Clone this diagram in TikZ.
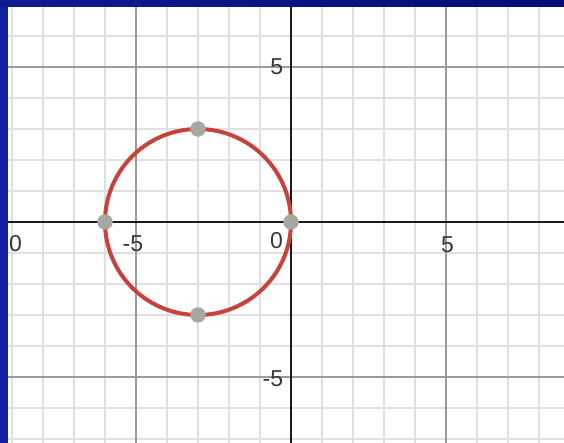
\documentclass[tikz,border=0pt]{standalone}
\usepackage{fontspec}
\setmainfont{Liberation Sans}
\definecolor{bordblue}{RGB}{16,32,160}
\definecolor{topblueL}{RGB}{14,28,145}
\definecolor{topblueR}{RGB}{4,12,120}
\definecolor{minorgrid}{RGB}{224,224,224}
\definecolor{majorgrid}{RGB}{155,155,155}
\definecolor{curvered}{RGB}{200,66,60}
\definecolor{dotgray}{RGB}{168,168,162}
\definecolor{labelgray}{RGB}{55,55,55}
\tikzset{
  minorline/.style={draw=minorgrid, line width=1.6pt},
  majorline/.style={draw=majorgrid, line width=1.6pt},
  axisline/.style={draw=black!90, line width=2.2pt},
  curve/.style={draw=curvered, line width=4pt},
  dot/.style={circle, fill=dotgray, inner sep=0pt, minimum size=15.5pt},
  ticklabel/.style={text=labelgray, font=\fontsize{23}{23}\selectfont, inner sep=0pt}
}
\begin{document}
\begin{tikzpicture}[x=31pt,y=31pt]
\useasboundingbox (-291pt,-221pt) rectangle (273pt,222pt);
\fill[white] (-291pt,-221pt) rectangle (273pt,222pt);
\begin{scope}
\clip (-283pt,-221pt) rectangle (273pt,215pt);
% minor grid
\foreach \i in {-10,...,9} {\draw[minorline] (\i,-8) -- (\i,8);}
\foreach \j in {-8,...,8} {\draw[minorline] (-10,\j) -- (9,\j);}
% major grid
\foreach \i in {-10,-5,5} {\draw[majorline] (\i,-8) -- (\i,8);}
\foreach \j in {-5,5} {\draw[majorline] (-10,\j) -- (9,\j);}
% axes
\coordinate (xl) at (-10,0); \coordinate (xr) at (9,0);
\coordinate (yb) at (0,-8); \coordinate (yt) at (0,8);
\draw[axisline] (xl) -- (xr);
\draw[axisline] (yb) -- (yt);
% labels
\node[ticklabel, anchor=west] (l10) at (-282pt,-0.71) {0};
\node[ticklabel] (lxm5) at (-5.1,-0.71) {-5};
\node[ticklabel] (lx5) at (5.05,-0.74) {5};
\node[ticklabel] (l0) at (-0.47,-0.61) {0};
\node[ticklabel, anchor=east] (ly5) at (-0.25,5) {5};
\node[ticklabel, anchor=east] (lym5) at (-0.25,-5.07) {-5};
% circle
\coordinate (c) at (-3,0);
\draw[curve] (c) circle[radius=3];
\node[dot] (pl) at (-6,0) {};
\node[dot] (pr) at (0,0) {};
\node[dot] (pt) at (-3,3) {};
\node[dot] (pb) at (-3,-3) {};
\end{scope}
% border
\fill[bordblue] (-291pt,-221pt) rectangle (-283pt,222pt);
\shade[left color=topblueL, right color=topblueR] (-291pt,215pt) rectangle (273pt,222pt);
\end{tikzpicture}
\end{document}
